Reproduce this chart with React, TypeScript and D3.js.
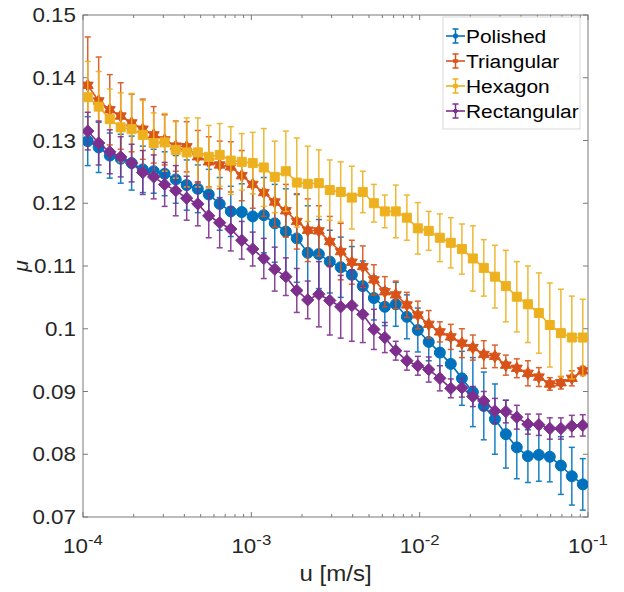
import React from 'react';
import * as d3 from 'd3';

// u [m/s] sample positions (log-spaced measurement points)
const U = [
  1.067e-4, 1.239e-4, 1.442e-4, 1.675e-4, 1.945e-4, 2.265e-4, 2.630e-4, 3.055e-4,
  3.556e-4, 4.130e-4, 4.808e-4, 5.585e-4, 6.486e-4, 7.551e-4, 8.770e-4, 1.019e-3,
  1.186e-3, 1.377e-3, 1.603e-3, 1.862e-3, 2.163e-3, 2.518e-3, 2.924e-3, 3.396e-3,
  3.954e-3, 4.592e-3, 5.346e-3, 6.209e-3, 7.211e-3, 8.395e-3, 9.750e-3, 1.132e-2,
  1.318e-2, 1.531e-2, 1.782e-2, 2.070e-2, 2.404e-2, 2.799e-2, 3.251e-2, 3.776e-2,
  4.395e-2, 5.105e-2, 5.929e-2, 6.902e-2, 8.017e-2, 9.311e-2,
];

const POLISHED = [
  0.1299, 0.1289, 0.1276, 0.1271, 0.1264, 0.1254, 0.1251, 0.1247, 0.1238, 0.1229, 0.1223, 0.1214,
  0.1199, 0.1187, 0.1186, 0.1179, 0.1181, 0.1168, 0.1155, 0.1144, 0.1121, 0.1119, 0.1107, 0.1098,
  0.1086, 0.1068, 0.1049, 0.1035, 0.1039, 0.1019, 0.0998, 0.0979, 0.0962, 0.0944, 0.0921, 0.0899,
  0.0877, 0.0856, 0.0832, 0.0811, 0.0797, 0.0799, 0.0796, 0.0782, 0.0765, 0.0752,
];
const POLISHED_ERR = [
  0.0039, 0.0040, 0.0036, 0.0039, 0.0043, 0.0037, 0.0035, 0.0035, 0.0038, 0.0040, 0.0038, 0.0040,
  0.0042, 0.0040, 0.0045, 0.0050, 0.0060, 0.0062, 0.0068, 0.0070, 0.0075, 0.0055, 0.0050, 0.0048,
  0.0045, 0.0040, 0.0035, 0.0030, 0.0035, 0.0035, 0.0035, 0.0030, 0.0035, 0.0038, 0.0043, 0.0055,
  0.0054, 0.0056, 0.0054, 0.0050, 0.0042, 0.0042, 0.0040, 0.0046, 0.0046, 0.0041,
];

const TRIANGULAR = [
  0.1388, 0.1363, 0.1349, 0.1339, 0.1328, 0.1318, 0.1309, 0.1301, 0.1291, 0.1290, 0.1274, 0.1266,
  0.1261, 0.1258, 0.1244, 0.1230, 0.1217, 0.1202, 0.1188, 0.1171, 0.1157, 0.1156, 0.1139, 0.1123,
  0.1106, 0.1099, 0.1078, 0.1059, 0.1054, 0.1038, 0.1022, 0.1007, 0.0995, 0.0987, 0.0977, 0.0970,
  0.0959, 0.0956, 0.0942, 0.0937, 0.0929, 0.0923, 0.0912, 0.0914, 0.0921, 0.0933,
];
const TRIANGULAR_ERR = [
  0.0077, 0.0070, 0.0056, 0.0053, 0.0046, 0.0048, 0.0045, 0.0040, 0.0040, 0.0040, 0.0042, 0.0040,
  0.0038, 0.0040, 0.0040, 0.0038, 0.0038, 0.0040, 0.0042, 0.0044, 0.0050, 0.0040, 0.0040, 0.0045,
  0.0035, 0.0033, 0.0024, 0.0024, 0.0022, 0.0020, 0.0022, 0.0022, 0.0016, 0.0020, 0.0023, 0.0020,
  0.0022, 0.0018, 0.0016, 0.0015, 0.0020, 0.0015, 0.0010, 0.0010, 0.0012, 0.0007,
];

const HEXAGON = [
  0.1369, 0.1354, 0.1334, 0.1321, 0.1318, 0.1309, 0.1296, 0.1297, 0.1285, 0.1281, 0.1281, 0.1274,
  0.1277, 0.1268, 0.1266, 0.1264, 0.1257, 0.1242, 0.1251, 0.1233, 0.1231, 0.1232, 0.1221, 0.1218,
  0.1209, 0.1218, 0.1200, 0.1187, 0.1187, 0.1177, 0.1160, 0.1156, 0.1145, 0.1137, 0.1127, 0.1112,
  0.1097, 0.1083, 0.1068, 0.1051, 0.1039, 0.1025, 0.1006, 0.0993, 0.0986, 0.0986,
];
const HEXAGON_ERR = [
  0.0057, 0.0056, 0.0048, 0.0055, 0.0057, 0.0055, 0.0048, 0.0046, 0.0045, 0.0055, 0.0055, 0.0050,
  0.0050, 0.0054, 0.0045, 0.0049, 0.0062, 0.0057, 0.0064, 0.0071, 0.0060, 0.0053, 0.0048, 0.0048,
  0.0050, 0.0033, 0.0030, 0.0026, 0.0042, 0.0036, 0.0041, 0.0031, 0.0038, 0.0040, 0.0040, 0.0052,
  0.0045, 0.0050, 0.0057, 0.0056, 0.0061, 0.0064, 0.0067, 0.0070, 0.0066, 0.0061,
];

const RECTANGULAR = [
  0.1315, 0.1296, 0.1282, 0.1274, 0.1264, 0.1249, 0.1242, 0.1230, 0.1220, 0.1208, 0.1199, 0.1180,
  0.1169, 0.1159, 0.1141, 0.1127, 0.1112, 0.1095, 0.1083, 0.1061, 0.1046, 0.1055, 0.1045, 0.1035,
  0.1037, 0.1023, 0.0999, 0.0986, 0.0965, 0.0949, 0.0941, 0.0935, 0.0921, 0.0905, 0.0906, 0.0892,
  0.0885, 0.0869, 0.0868, 0.0859, 0.0848, 0.0847, 0.0841, 0.0841, 0.0845, 0.0846,
];
const RECTANGULAR_ERR = [
  0.0030, 0.0035, 0.0035, 0.0032, 0.0030, 0.0035, 0.0035, 0.0035, 0.0040, 0.0035, 0.0035, 0.0035,
  0.0040, 0.0035, 0.0030, 0.0027, 0.0032, 0.0035, 0.0030, 0.0035, 0.0030, 0.0052, 0.0055, 0.0050,
  0.0057, 0.0045, 0.0032, 0.0024, 0.0015, 0.0015, 0.0015, 0.0020, 0.0020, 0.0015, 0.0015, 0.0016,
  0.0015, 0.0020, 0.0018, 0.0019, 0.0016, 0.0017, 0.0017, 0.0017, 0.0017, 0.0017,
];

const SERIES_NAMES = ['Polished', 'Triangular', 'Hexagon', 'Rectangular'];
const SERIES_VALUES = [POLISHED, TRIANGULAR, HEXAGON, RECTANGULAR];
const SERIES_ERRORS = [POLISHED_ERR, TRIANGULAR_ERR, HEXAGON_ERR, RECTANGULAR_ERR];
const SERIES_COLORS = ['#0072BD', '#D95319', '#EDB120', '#7E2F8E'];
const SERIES_MARKERS = ['circle', 'hexagram', 'square', 'diamond'];

const Y_TICKS = [0.07, 0.08, 0.09, 0.1, 0.11, 0.12, 0.13, 0.14, 0.15];
const Y_TICK_LABELS = ['0.07', '0.08', '0.09', '0.1', '0.11', '0.12', '0.13', '0.14', '0.15'];
const X_TICK_EXPONENTS = [-4, -3, -2, -1];
const X_LABEL = 'u [m/s]';
const Y_LABEL = 'μ';

const FONT = '"Liberation Sans", Arial, Helvetica, sans-serif';
const SX = 1.12; // horizontal text stretch to match the reference rendering

function markerPath(kind: string, cx: number, cy: number, s: number): string {
  if (kind === 'circle') {
    const r = s;
    return `M${cx - r},${cy}a${r},${r} 0 1,0 ${2 * r},0a${r},${r} 0 1,0 ${-2 * r},0Z`;
  }
  if (kind === 'square') {
    const h = s * 0.82;
    return `M${cx - h},${cy - h}H${cx + h}V${cy + h}H${cx - h}Z`;
  }
  if (kind === 'diamond') {
    const h = s * 1.12;
    return `M${cx},${cy - h}L${cx + h},${cy}L${cx},${cy + h}L${cx - h},${cy}Z`;
  }
  const R = s * 1.15;
  const r = R / Math.sqrt(3);
  const pts: string[] = [];
  for (let k = 0; k < 12; k++) {
    const a = -Math.PI / 2 + (k * Math.PI) / 6;
    const rad = k % 2 === 0 ? R : r;
    pts.push(`${cx + rad * Math.cos(a)},${cy + rad * Math.sin(a)}`);
  }
  return 'M' + pts.join('L') + 'Z';
}

export default function App() {
  const W = 624;
  const H = 592;
  const L = 83, R = 588, T = 15, B = 517;
  const x = d3.scaleLog().domain([1e-4, 1e-1]).range([L, R]);
  const y = d3.scaleLinear().domain([0.07, 0.15]).range([B, T]);
  const axisColor = '#7a7a7a';
  const textColor = '#262626';

  const minorTicks: number[] = [];
  for (const e of [-4, -3, -2]) {
    for (let k = 2; k <= 9; k++) minorTicks.push(k * Math.pow(10, e));
  }

  const line = d3
    .line<number>()
    .x((_, i) => x(U[i]))
    .y((d) => y(d));

  const cap = 3;

  return (
    <svg
      width={W}
      height={H}
      style={{ position: 'absolute', left: 0, top: 0, background: '#fff' }}
      fontFamily={FONT}
    >
      <defs>
        <clipPath id="plotclip">
          <rect x={L} y={T} width={R - L} height={B - T} />
        </clipPath>
      </defs>
      <rect x={0} y={0} width={W} height={H} fill="#fff" />

      <rect x={L} y={T} width={R - L} height={B - T} fill="none" stroke={axisColor} strokeWidth={1} />

      {Y_TICKS.map((t, i) => (
        <g key={'yt' + i}>
          <line x1={L} x2={L + 5} y1={y(t)} y2={y(t)} stroke={axisColor} strokeWidth={1} />
          <line x1={R} x2={R - 5} y1={y(t)} y2={y(t)} stroke={axisColor} strokeWidth={1} />
          <text
            transform={`translate(${L - 7},${y(t)}) scale(${SX},1)`}
            dy="0.36em"
            textAnchor="end"
            fontSize={20}
            fill={textColor}
          >
            {Y_TICK_LABELS[i]}
          </text>
        </g>
      ))}

      {X_TICK_EXPONENTS.map((e) => {
        const px = x(Math.pow(10, e));
        return (
          <g key={'xt' + e}>
            <line x1={px} x2={px} y1={B} y2={B - 5} stroke={axisColor} strokeWidth={1} />
            <line x1={px} x2={px} y1={T} y2={T + 5} stroke={axisColor} strokeWidth={1} />
            <text
              transform={`translate(${px},553) scale(${SX},1)`}
              textAnchor="middle"
              fontSize={20}
              fill={textColor}
            >
              <tspan>10</tspan>
              <tspan fontSize={15} dy={-8}>{String(e)}</tspan>
            </text>
          </g>
        );
      })}
      {minorTicks.map((v, i) => (
        <g key={'mt' + i}>
          <line x1={x(v)} x2={x(v)} y1={B} y2={B - 3} stroke={axisColor} strokeWidth={1} />
          <line x1={x(v)} x2={x(v)} y1={T} y2={T + 3} stroke={axisColor} strokeWidth={1} />
        </g>
      ))}

      <text
        transform={`translate(${(L + R) / 2},581) scale(${SX},1)`}
        textAnchor="middle"
        fontSize={21.5}
        fill={textColor}
      >
        {X_LABEL}
      </text>
      <text
        transform={`translate(28,${(T + B) / 2}) rotate(-90)`}
        textAnchor="middle"
        fontSize={21}
        fontStyle="italic"
        fill={textColor}
      >
        {Y_LABEL}
      </text>

      <g clipPath="url(#plotclip)">
        {SERIES_VALUES.map((vals, s) => {
          const col = SERIES_COLORS[s];
          const errs = SERIES_ERRORS[s];
          return (
            <g key={'s' + s}>
              {vals.map((v, i) => {
                const px = x(U[i]);
                const y1 = y(v + errs[i]);
                const y2 = y(v - errs[i]);
                return (
                  <g key={'e' + i} stroke={col} strokeWidth={1.5} opacity={0.9}>
                    <line x1={px} x2={px} y1={y1} y2={y2} />
                    <line x1={px - cap} x2={px + cap} y1={y1} y2={y1} />
                    <line x1={px - cap} x2={px + cap} y1={y2} y2={y2} />
                  </g>
                );
              })}
              <path d={line(vals) || ''} fill="none" stroke={col} strokeWidth={1.6} />
              {vals.map((v, i) => (
                <path
                  key={'m' + i}
                  d={markerPath(SERIES_MARKERS[s], x(U[i]), y(v), 5.5)}
                  fill={col}
                  stroke={col}
                  strokeWidth={1}
                />
              ))}
            </g>
          );
        })}
      </g>

      <g>
        <rect x={443} y={17} width={137} height={112} fill="#fff" stroke="#d9d9d9" strokeWidth={1} />
        {SERIES_NAMES.map((name, i) => {
          const cy = 36 + i * 25;
          const col = SERIES_COLORS[i];
          return (
            <g key={'lg' + i}>
              <line x1={446} x2={465} y1={cy} y2={cy} stroke={col} strokeWidth={1.6} />
              <line x1={455.5} x2={455.5} y1={cy - 7} y2={cy + 7} stroke={col} strokeWidth={1.5} />
              <line x1={452.5} x2={458.5} y1={cy - 7} y2={cy - 7} stroke={col} strokeWidth={1.5} />
              <line x1={452.5} x2={458.5} y1={cy + 7} y2={cy + 7} stroke={col} strokeWidth={1.5} />
              <path d={markerPath(SERIES_MARKERS[i], 455.5, cy, 2.2)} fill={col} stroke={col} />
              <text
                transform={`translate(466,${cy}) scale(1.1,1)`}
                dy="0.36em"
                fontSize={19}
                fill="#000"
              >
                {name}
              </text>
            </g>
          );
        })}
      </g>
    </svg>
  );
}
